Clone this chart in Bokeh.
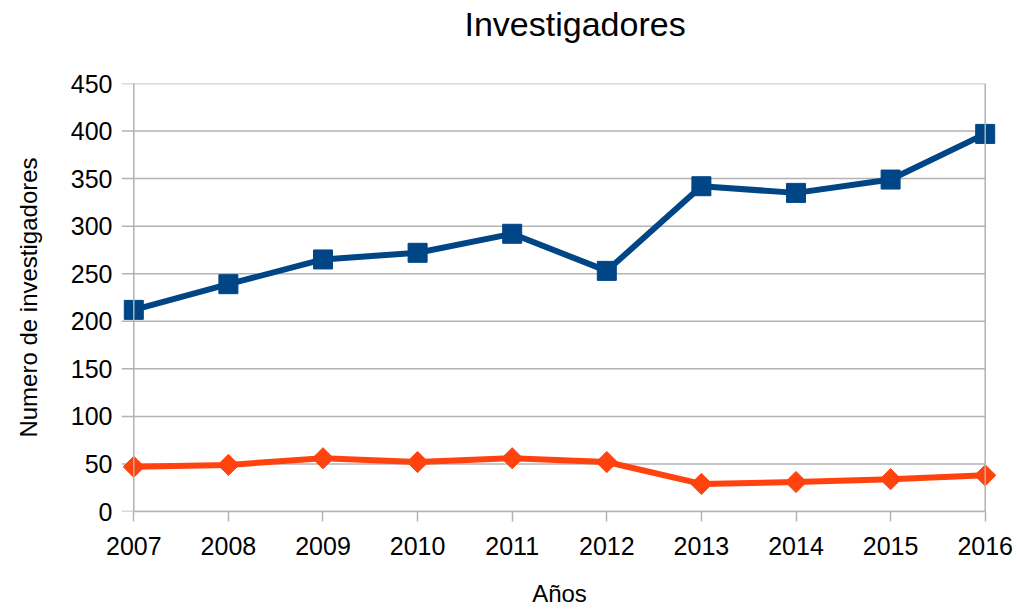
import math
from bokeh.plotting import figure
from bokeh.models import FixedTicker, Range1d, Title, Span
from bokeh.embed import file_html
from bokeh.resources import INLINE

years = [2007, 2008, 2009, 2010, 2011, 2012, 2013, 2014, 2015, 2016]
serie_azul = [212, 239, 265, 272, 292, 253, 342, 335, 349, 397]
serie_naranja = [47, 49, 56, 52, 56, 52, 29, 31, 34, 38]
y_ticks = [0, 50, 100, 150, 200, 250, 300, 350, 400, 450]

FONT = "Liberation Sans"
GRAY = "#b3b3b3"
X_LO, X_HI = years[0] - 0.13, years[-1] + 0.13

p = figure(width=1015, height=609, output_backend="svg", toolbar_location=None,
           x_range=Range1d(X_LO, X_HI), y_range=Range1d(0, 450),
           min_border_left=121, min_border_right=18, min_border_top=83, min_border_bottom=96)

# spacer between frame and title (first added = closest to the frame)
p.add_layout(Title(text=" ", text_font=FONT, text_font_size="24px", standoff=12), "above")
p.add_layout(Title(text="Investigadores", align="left", offset=343, text_font=FONT,
                   text_font_size="34px", text_font_style="normal", text_color="#000000",
                   standoff=0), "above")

# horizontal grid lines (extending left like tick marks), bounded at the last year
p.segment(x0=[X_LO] * len(y_ticks), x1=[years[-1]] * len(y_ticks), y0=y_ticks, y1=y_ticks,
          line_color=GRAY, line_width=1.5)
p.add_layout(Span(location=years[0], dimension="height", line_color=GRAY, line_width=1.5))
p.add_layout(Span(location=years[-1], dimension="height", line_color=GRAY, line_width=1.5))

p.line(years, serie_azul, line_color="#004586", line_width=6)
p.scatter(years, serie_azul, marker="square", size=19, fill_color="#004586", line_color="#004586")
p.line(years, serie_naranja, line_color="#ff420e", line_width=6)
p.scatter(years, serie_naranja, marker="square", angle=math.pi / 4, size=15,
          fill_color="#ff420e", line_color="#ff420e")

p.xaxis.ticker = FixedTicker(ticks=years)
p.yaxis.ticker = FixedTicker(ticks=y_ticks)
p.xaxis.axis_label = "Años"
p.yaxis.axis_label = "Numero de investigadores"
p.xaxis.bounds = (years[0], years[-1])

for ax in (p.xaxis, p.yaxis):
    ax.axis_line_color = GRAY
    ax.axis_line_width = 1.5
    ax.major_tick_line_color = GRAY
    ax.major_tick_line_width = 1.5
    ax.major_tick_in = 0
    ax.minor_tick_line_color = None
    ax.major_label_text_font = FONT
    ax.major_label_text_font_size = "25px"
    ax.major_label_text_color = "#000000"
    ax.axis_label_text_font = FONT
    ax.axis_label_text_font_size = "24px"
    ax.axis_label_text_font_style = "normal"
    ax.axis_label_text_color = "#000000"

p.yaxis.axis_line_color = None
p.yaxis.major_tick_line_color = None
p.yaxis.major_tick_out = 0
p.yaxis.major_label_standoff = 9
p.yaxis.axis_label_standoff = 26
p.xaxis.major_tick_out = 10
p.xaxis.major_label_standoff = 15
p.xaxis.axis_label_standoff = 22

p.xgrid.grid_line_color = None
p.ygrid.grid_line_color = None
p.outline_line_color = None
p.background_fill_color = "white"
p.border_fill_color = "white"

open("out.html", "w").write(file_html(p, INLINE))
